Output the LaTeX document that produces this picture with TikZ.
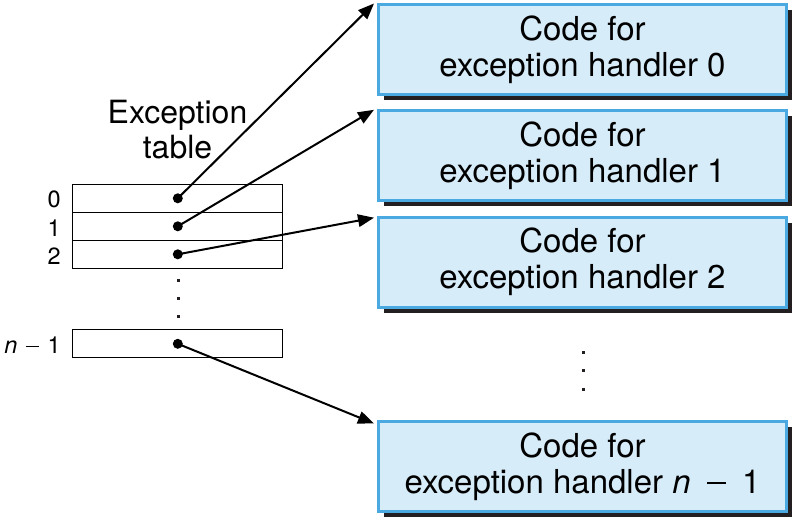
\documentclass[tikz,border=0pt]{standalone}
\usepackage{fontspec}
\setmainfont{TeX Gyre Heros}
\usetikzlibrary{arrows.meta,shadows}
\definecolor{boxfill}{HTML}{D7ECF9}
\definecolor{boxline}{HTML}{4BA9E1}
\definecolor{shadowc}{HTML}{231F20}
\newcommand{\mminus}{\rule[0.27em]{0.56em}{0.07em}}
\begin{document}
\begin{tikzpicture}[x=1pt,y=-1pt,
  handler/.style={draw=boxline,fill=boxfill,line width=3pt,inner sep=0pt,
    minimum width=408pt,minimum height=90pt,align=center,
    font=\fontsize{33}{36}\selectfont,
    drop shadow={shadow xshift=5.5pt,shadow yshift=-5.5pt,fill=shadowc,opacity=1}},
  row/.style={draw,line width=1pt,inner sep=0pt,minimum width=210pt,minimum height=28pt},
  dotc/.style={circle,fill=black,inner sep=0pt,minimum size=10pt},
  sq/.style={fill=shadowc,inner sep=0pt,minimum size=3pt},
  idx/.style={anchor=east,inner sep=0pt,font=\fontsize{23.5}{25}\selectfont},
  arr/.style={line width=2pt,-{Triangle[length=16pt,width=12.5pt]}},
]
\useasboundingbox (0,0) rectangle (798,522);
% handler boxes
\node[handler] (h0) at (582.5,49.5) {Code for\\exception handler 0};
\node[handler] (h1) at (582.5,155.8) {Code for\\exception handler 1};
\node[handler] (h2) at (582.5,262.2) {Code for\\exception handler 2};
\node[handler] (hn) at (582.5,466.5) {Code for\\exception handler \textit{n}\hspace{0.5em}\mminus\hspace{0.5em}1};
% label
\node[align=center,font=\fontsize{32}{35}\selectfont,inner sep=0pt] (lbl) at (177.5,130) {Exception\\table};
% table rows
\node[row] (r0) at (177.8,198.3) {};
\node[row] (r1) at (177.8,226.3) {};
\node[row] (r2) at (177.8,254.3) {};
\node[row] (rn) at (177.8,343.8) {};
% indices
\node[idx] (i0) at ([xshift=-11.5pt,yshift=-1.5pt]r0.west) {0};
\node[idx] (i1) at ([xshift=-11.5pt,yshift=-1.5pt]r1.west) {1};
\node[idx] (i2) at ([xshift=-11.5pt,yshift=-1.5pt]r2.west) {2};
\node[idx] (in) at ([xshift=-11.5pt,yshift=-1.5pt]rn.west) {\textit{n}\hspace{0.36em}\mminus\hspace{0.36em}1};
% dots in rows
\node[dotc] (d0) at (r0.center) {};
\node[dotc] (d1) at (r1.center) {};
\node[dotc] (d2) at (r2.center) {};
\node[dotc] (dn) at (rn.center) {};
% vertical ellipses
\node[sq] (v1) at (178,280) {};
\node[sq] (v2) at (178,298) {};
\node[sq] (v3) at (178,316.5) {};
\node[sq] (w1) at (583,352) {};
\node[sq] (w2) at (583,370.5) {};
\node[sq] (w3) at (583,389) {};
% arrow tips
\coordinate (t0) at ([xshift=-3pt,yshift=-0.5pt]h0.north west);
\coordinate (t1) at ([xshift=-3pt,yshift=-0.5pt]h1.north west);
\coordinate (t2) at ([xshift=-3pt,yshift=-2pt]h2.north west);
\coordinate (tn) at ([xshift=-3pt,yshift=-3.5pt]hn.north west);
\draw[arr] (d0.center) -- (t0);
\draw[arr] (d1.center) -- (t1);
\draw[arr] (d2.center) -- (t2);
\draw[arr] (dn.center) -- (tn);
\end{tikzpicture}
\end{document}
